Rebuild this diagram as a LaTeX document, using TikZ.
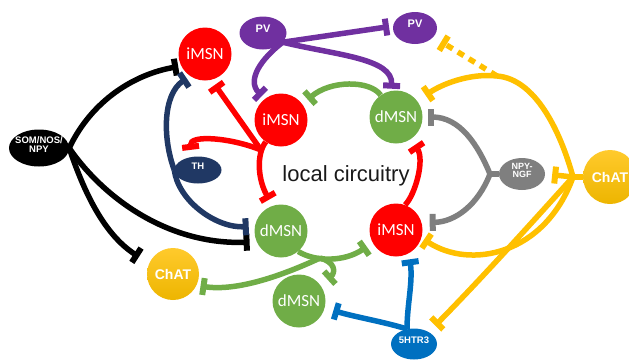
\documentclass[tikz,border=0pt]{standalone}
\usepackage{fontspec}
\setmainfont{Liberation Sans}
\newfontfamily\calib{Carlito}
\usetikzlibrary{arrows.meta,shapes.geometric,calc}
\pgfdeclarelayer{bg}
\pgfsetlayers{bg,main}
\definecolor{cred}{HTML}{FF0000}
\definecolor{cgreen}{HTML}{70AD47}
\definecolor{cpurple}{HTML}{7030A0}
\definecolor{cnavy}{HTML}{203864}
\definecolor{cyellow}{HTML}{FFC000}
\definecolor{cyelA}{HTML}{FFCA2C}
\definecolor{cyelB}{HTML}{EDB500}
\definecolor{cgray}{HTML}{7F7F7F}
\definecolor{cblue}{HTML}{0070C0}
\newcommand\mylbl[1]{\makebox[0pt]{\smash{\renewcommand\arraystretch{0.85}\begin{tabular}{@{}c@{}}#1\end{tabular}}}}
\begin{document}
\begin{tikzpicture}[x=1pt,y=-1pt,
  msn/.style={circle, minimum size=53pt, inner sep=0pt, text=white, font=\calib\fontsize{17}{17}\selectfont},
  imsn/.style={msn, fill=cred},
  dmsn/.style={msn, fill=cgreen},
  inter/.style={ellipse, inner sep=0pt, text=white, font=\bfseries\fontsize{9.5}{10}\selectfont},
  chat/.style={circle, minimum size=52pt, inner sep=0pt, top color=cyelA, bottom color=cyelB, text=white, font=\bfseries\fontsize{14}{14}\selectfont},
  conn/.style={line width=5.5pt, -{Rectangle[width=17pt,length=6pt]}},
  stub/.style={line width=5.5pt}
]
\useasboundingbox (0,0) rectangle (629,360);
% nodes
\node[imsn] (iA) at (205,54) {iMSN};
\node[imsn] (iB) at (281,120) {iMSN};
\node[dmsn] (dA) at (396,117) {dMSN};
\node[dmsn] (dB) at (281,231) {dMSN};
\node[imsn] (iC) at (396,230) {iMSN};
\node[dmsn] (dC) at (299,301) {dMSN};
\node[inter, fill=black, minimum width=60pt, minimum height=37pt] (som) at (39,148) {\mylbl{SOM/NOS/\\NPY}};
\node[inter, fill=cnavy, minimum width=47pt, minimum height=27pt] (th) at (198,170) {\mylbl{TH}};
\node[inter, fill=cpurple, minimum width=47pt, minimum height=33pt, font=\bfseries\fontsize{11}{11}\selectfont] (pvL) at (263,33) {\mylbl{PV}};
\node[inter, fill=cpurple, minimum width=44pt, minimum height=32pt, font=\bfseries\fontsize{11}{11}\selectfont] (pvR) at (415,28) {\mylbl{PV}};
\node[inter, fill=cgray, minimum width=46pt, minimum height=32pt, font=\bfseries\fontsize{9}{9}\selectfont] (npy) at (522,174) {\mylbl{NPY-\\NGF}};
\node[inter, fill=cblue, minimum width=46pt, minimum height=31pt] (ht) at (414,344) {\mylbl{5HTR3}};
\node[chat] (chL) at (173,274) {ChAT};
\node[chat, minimum size=54pt] (chR) at (610,177) {ChAT};
\node[font=\fontsize{22}{22}\selectfont, text=black!90] (lc) at (346,176) {local circuitry};
% junctions
\coordinate (jR) at (261,150);
\coordinate (jY) at (573,177);
\coordinate (yT) at (497,76);
\coordinate (jG) at (490,174);
\coordinate (jG2) at (320,258);
\begin{pgfonlayer}{bg}
% black
\draw[conn, black, shorten >=3pt] (som.east) .. controls (92,100) and (135,74) .. (iA.207);
\draw[conn, black, shorten >=7pt] (som.east) .. controls (105,200) and (170,245) .. (dB.204);
\draw[conn, black, shorten >=12pt] (som.east) .. controls (85,195) and (105,235) .. (chL.156);
% navy
\draw[conn, cnavy, shorten >=4pt] (th.west) .. controls (163,140) and (162,95) .. (iA.236);
\draw[conn, cnavy, shorten >=6pt] (th.west) .. controls (178,200) and (215,228) .. (dB.170);
% red
\draw[conn, cred, shorten >=7pt] (iB.235) .. controls (256,155) and (258,180) .. (dB.108);
\draw[conn, cred, shorten >=6pt] (jR) -- (iA.284);
\draw[conn, cred, shorten >=7pt] (jR) .. controls (232,138) and (189,134) .. (th.115);
\draw[conn, cred, shorten >=7pt] (iC.70) .. controls (415,195) and (425,160) .. (dA.304);
% green
\draw[conn, cgreen, shorten >=7pt] (dA.125) .. controls (370,80) and (330,80) .. (iB.36);
\draw[conn, cgreen, shorten >=7pt] (dB.310) .. controls (315,262) and (345,262) .. (iC.208);
\draw[conn, cgreen, shorten >=4pt] (jG2) .. controls (290,272) and (240,292) .. (chL.334);
\draw[conn, cgreen, shorten >=9pt] (jG2) .. controls (335,262) and (336,272) .. (dC.35);
% purple
\draw[conn, cpurple, shorten >=4pt] (pvL.-25) -- (pvR.175);
\draw[conn, cpurple, shorten >=2pt] (pvL.-25) .. controls (335,55) and (393,58) .. (dA.100);
\draw[conn, cpurple, shorten >=4pt] (pvL.-25) .. controls (262,58) and (246,80) .. (iB.127);
% yellow
\draw[stub, cyellow] (chR.west) -- (jY);
\draw[conn, cyellow, shorten >=10pt] (jY) .. controls (560,130) and (535,79) .. (yT) .. controls (470,73) and (442,84) .. (dA.37);
\draw[conn, cyellow, dash pattern=on 7pt off 6pt, shorten >=9pt] (yT) -- (pvR.334);
\draw[conn, cyellow, shorten >=7pt] (jY) -- (npy.east);
\draw[conn, cyellow, shorten >=3pt] (jY) .. controls (545,255) and (470,270) .. (iC.343);
\draw[conn, cyellow, shorten >=9pt] (jY) .. controls (527,228) and (480,280) .. (ht.39);
% gray
\draw[stub, cgray] (npy.west) -- (jG);
\draw[conn, cgray, shorten >=5pt] (jG) .. controls (478,145) and (460,117) .. (dA.0);
\draw[conn, cgray, shorten >=8pt] (jG) .. controls (478,205) and (455,222) .. (iC.16);
% blue
\draw[conn, cblue, shorten >=6pt] (ht.115) .. controls (407,305) and (413,282) .. (iC.299);
\draw[conn, cblue, shorten >=9pt] (ht.115) .. controls (385,322) and (355,317) .. (dC.345);
\end{pgfonlayer}
\end{tikzpicture}
\end{document}
